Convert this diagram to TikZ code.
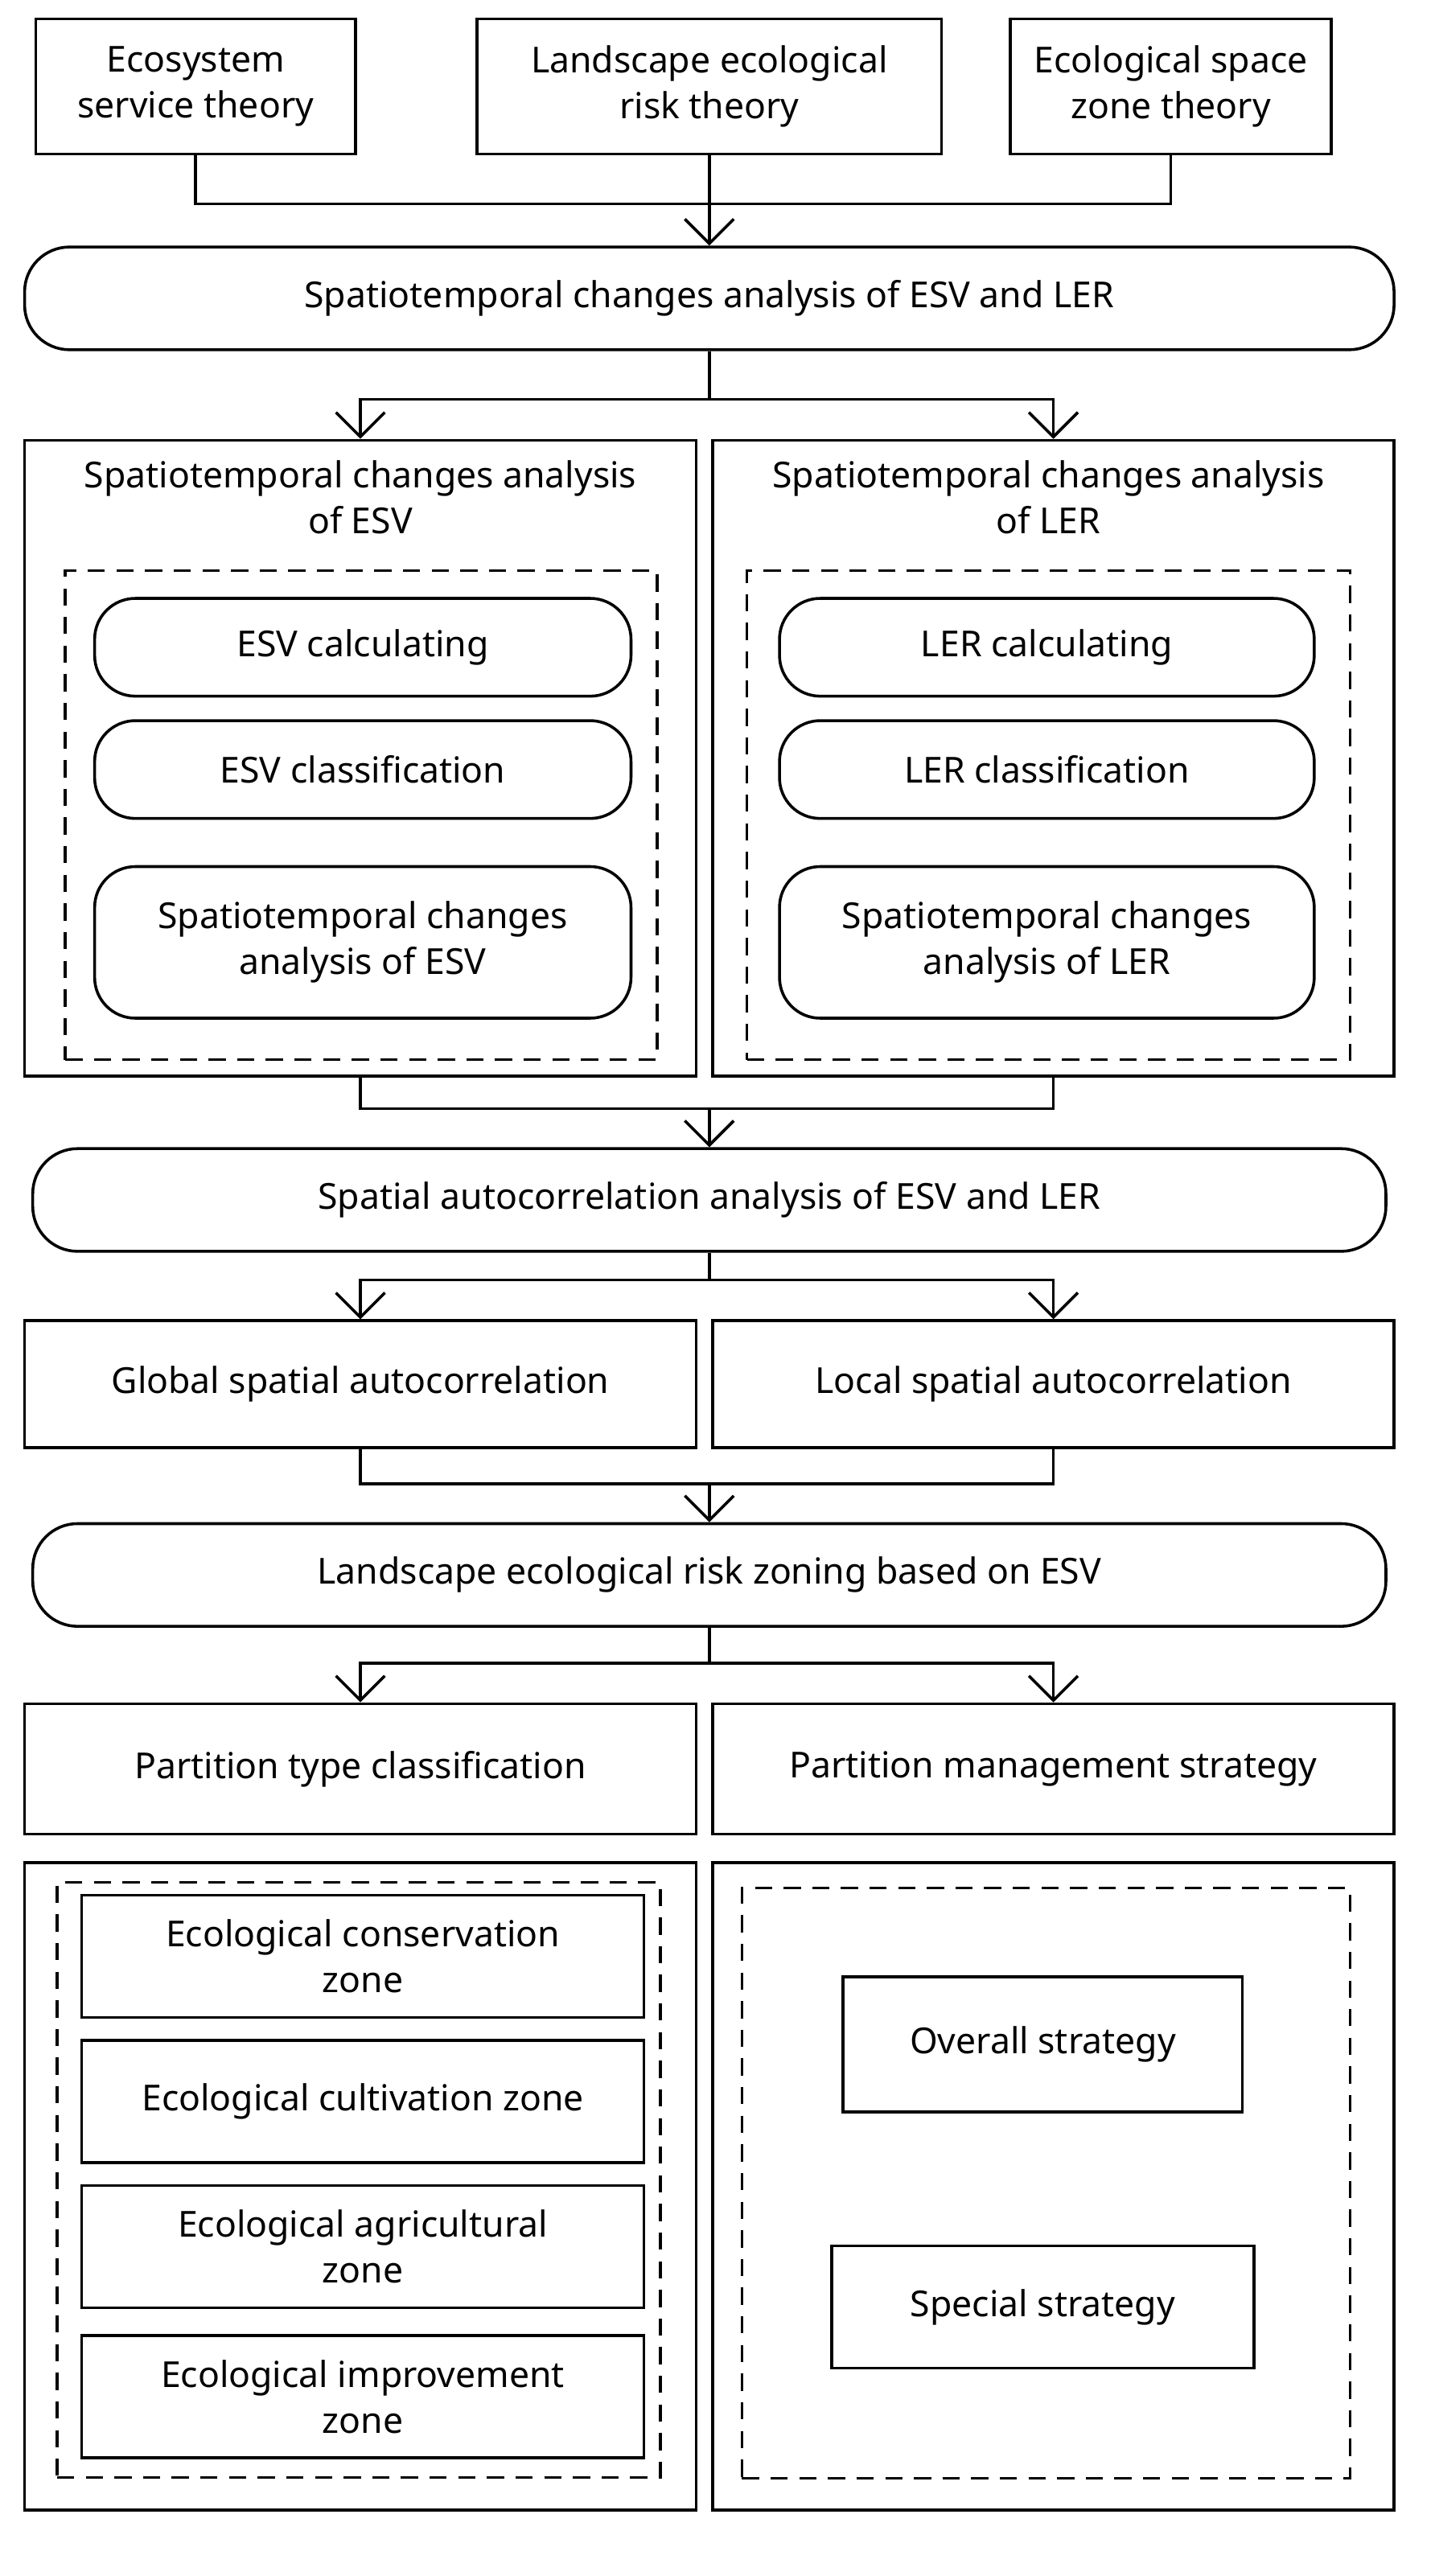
\documentclass[tikz,border=0pt]{standalone}
\usepackage{fontspec}
\setmainfont{Noto Sans}
\usepackage{tikz}
\usetikzlibrary{arrows.meta}
\tikzstyle{theory} = [rectangle, draw=black, line width=1pt, minimum height=1.66cm, align=center, font=\fontsize{12.5}{16}\selectfont]
\tikzstyle{stage} = [rectangle, rounded corners=0.55cm, draw=black, line width=1pt, minimum width=16.6cm, minimum height=1.26cm, font=\fontsize{12.5}{16}\selectfont]
\tikzstyle{frame} = [rectangle, draw=black, line width=1pt, align=center, font=\fontsize{12.5}{16}\selectfont]
\tikzstyle{dashframe} = [rectangle, draw=black, line width=1pt, dash pattern=on 6pt off 4pt]
\tikzstyle{pill} = [rectangle, rounded corners=0.5cm, draw=black, line width=1pt, minimum width=6.58cm, minimum height=1.2cm, align=center, font=\fontsize{12.5}{16}\selectfont]
\tikzstyle{zone} = [rectangle, draw=black, line width=1pt, minimum width=6.9cm, minimum height=1.5cm, align=center, font=\fontsize{12.5}{16}\selectfont]
\tikzstyle{line} = [line width=1pt]
\tikzstyle{arrow} = [line width=1pt, -{Straight Barb[width=0.6cm,length=0.3cm]}]
\begin{document}
\begin{tikzpicture}[x=0.02cm,y=-0.02cm]
\useasboundingbox (0,0) rectangle (880,1580);
% theories
\node (eco) [theory, minimum width=3.92cm] at (120,53) {Ecosystem\\service theory};
\node (risk) [theory, minimum width=5.7cm] at (435,53) {Landscape ecological\\risk theory};
\node (space) [theory, minimum width=3.94cm] at (718,53) {Ecological space\\zone theory};
\node (st1) [stage, minimum width=16.8cm] at (435,183) {Spatiotemporal changes analysis of ESV and LER};
% ESV and LER analysis
\node (esv) [frame, minimum width=8.24cm, minimum height=7.8cm] at (221,465) {};
\node (ler) [frame, minimum width=8.36cm, minimum height=7.8cm] at (646,465) {};
\node (esvtitle) [frame, draw=none] at (221,305) {Spatiotemporal changes analysis\\of ESV};
\node (lertitle) [frame, draw=none] at (643,305) {Spatiotemporal changes analysis\\of LER};
\node (esvbox) [dashframe, minimum width=7.26cm, minimum height=6cm] at (221.5,500) {};
\node (lerbox) [dashframe, minimum width=7.4cm, minimum height=6cm] at (643,500) {};
\node (esvcalc) [pill] at (222.5,397) {ESV calculating};
\node (esvcls) [pill] at (222.5,472) {ESV classification};
\node (esvchg) [pill, minimum height=1.86cm] at (222.5,578) {Spatiotemporal changes\\analysis of ESV};
\node (lercalc) [pill, minimum width=6.56cm] at (642,397) {LER calculating};
\node (lercls) [pill, minimum width=6.56cm] at (642,472) {LER classification};
\node (lerchg) [pill, minimum width=6.56cm, minimum height=1.86cm] at (642,578) {Spatiotemporal changes\\analysis of LER};
\node (st2) [stage] at (435,736) {Spatial autocorrelation analysis of ESV and LER};
\node (glob) [frame, minimum width=8.24cm, minimum height=1.56cm] at (221,849) {Global spatial autocorrelation};
\node (loc) [frame, minimum width=8.36cm, minimum height=1.56cm] at (646,849) {Local spatial autocorrelation};
\node (st3) [stage] at (435,966) {Landscape ecological risk zoning based on ESV};
\node (ptype) [frame, minimum width=8.24cm, minimum height=1.6cm] at (221,1085) {Partition type classification};
\node (pman) [frame, minimum width=8.36cm, minimum height=1.6cm] at (646,1085) {Partition management strategy};
% zones and strategies
\node (zonefr) [frame, minimum width=8.24cm, minimum height=7.94cm] at (221,1341) {};
\node (stratfr) [frame, minimum width=8.36cm, minimum height=7.94cm] at (646,1341) {};
\node (zonebox) [dashframe, minimum width=7.4cm, minimum height=7.3cm] at (220,1337) {};
\node (stratbox) [dashframe, minimum width=7.46cm, minimum height=7.24cm] at (641.5,1339) {};
\node (cons) [zone] at (222.5,1200) {Ecological conservation\\zone};
\node (cult) [zone] at (222.5,1289) {Ecological cultivation zone};
\node (agri) [zone] at (222.5,1378) {Ecological agricultural\\zone};
\node (impr) [zone] at (222.5,1470) {Ecological improvement\\zone};
\node (overall) [zone, minimum width=4.9cm, minimum height=1.66cm] at (639.5,1254) {Overall strategy};
\node (special) [zone, minimum width=5.18cm] at (639.5,1415) {Special strategy};
% connectors
\coordinate (j1) at (435,125);
\coordinate (j2) at (435,245);
\coordinate (j3) at (435,680);
\coordinate (j4) at (435,785);
\coordinate (j5) at (435,910);
\coordinate (j6) at (435,1020);
\draw [line] (eco.south) |- (j1) -| (space.south);
\draw [arrow] (risk.south) -- (st1.north);
\draw [arrow] (st1.south) -- (j2) -| (esv.north);
\draw [arrow] (j2) -| (ler.north);
\draw [line] (esv.south) |- (j3) -| (ler.south);
\draw [arrow] (j3) -- (st2.north);
\draw [arrow] (st2.south) -- (j4) -| (glob.north);
\draw [arrow] (j4) -| (loc.north);
\draw [line] (glob.south) |- (j5) -| (loc.south);
\draw [arrow] (j5) -- (st3.north);
\draw [arrow] (st3.south) -- (j6) -| (ptype.north);
\draw [arrow] (j6) -| (pman.north);
\end{tikzpicture}
\end{document}
